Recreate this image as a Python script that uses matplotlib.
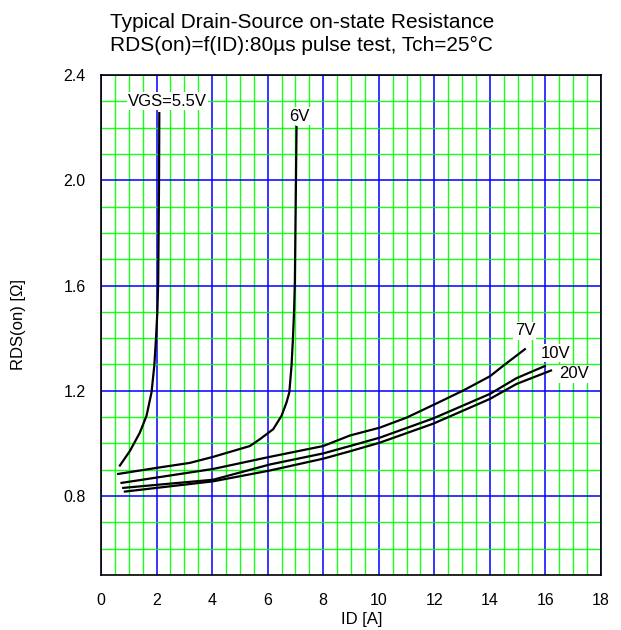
import numpy as np
import matplotlib
matplotlib.use("Agg")
import matplotlib.pyplot as plt
from matplotlib.ticker import MultipleLocator

plt.rcParams['font.family'] = ['Liberation Sans', 'DejaVu Sans']

# curves, ID [A] vs RDS(on) [Ohm]
id_55 = [0.68, 1.04, 1.40, 1.64, 1.82, 1.92, 1.98, 2.03, 2.06, 2.09, 2.10]
rds_55 = [0.916, 0.971, 1.041, 1.105, 1.194, 1.296, 1.398, 1.500, 1.615, 1.994, 2.255]

id_6 = [0.62, 2.0, 3.2, 4.04, 5.36, 5.72, 6.20, 6.50, 6.68, 6.78, 6.86, 6.91, 6.95, 6.98, 7.02, 7.04]
rds_6 = [0.884, 0.907, 0.926, 0.949, 0.990, 1.016, 1.054, 1.105, 1.156, 1.194, 1.296, 1.398,
         1.500, 1.615, 2.010, 2.202]

id_7 = [0.74, 4.04, 6.08, 8.0, 8.96, 10.04, 11.0, 12.02, 13.04, 14.0, 14.48, 15.26]
rds_7 = [0.850, 0.903, 0.949, 0.990, 1.030, 1.060, 1.098, 1.149, 1.201, 1.255, 1.295, 1.358]

id_10 = [0.80, 4.04, 6.08, 8.0, 8.96, 10.04, 11.96, 14.0, 14.96, 15.98]
rds_10 = [0.831, 0.862, 0.920, 0.962, 0.990, 1.022, 1.095, 1.188, 1.248, 1.294]

id_20 = [0.86, 4.04, 6.08, 8.0, 8.96, 10.04, 11.96, 14.0, 14.96, 16.2]
rds_20 = [0.817, 0.856, 0.897, 0.942, 0.970, 1.003, 1.075, 1.169, 1.226, 1.277]

labels = ['VGS=5.5V', '6V', '7V', '10V', '20V']
label_x = [2.39, 7.15, 15.26, 16.36, 17.04]
label_y = [2.30, 2.244, 1.428, 1.343, 1.264]

fig = plt.figure(figsize=(6.21, 6.30), dpi=100)
ax = fig.add_axes([0.1626, 0.0873, 0.8052, 0.7937])

ax.set_xlim(0, 18)
ax.set_ylim(0.5, 2.4)
ax.xaxis.set_major_locator(MultipleLocator(2))
ax.xaxis.set_minor_locator(MultipleLocator(0.5))
ax.yaxis.set_major_locator(MultipleLocator(0.4))
ax.yaxis.set_minor_locator(MultipleLocator(0.1))
ax.set_yticks([0.8, 1.2, 1.6, 2.0, 2.4])
ax.set_yticklabels(['0.8', '1.2', '1.6', '2.0', '2.4'])
ax.grid(which='minor', color='#00ff00', lw=1.0, alpha=0.9)
ax.grid(which='major', color='#0000ff', lw=1.1)
ax.set_axisbelow(True)
ax.tick_params(which='both', length=0, labelsize=11.5)
ax.tick_params(axis='x', pad=13)
ax.tick_params(axis='y', pad=11)
for s in ax.spines.values():
    s.set_linewidth(1.2)

for xs, ys in [(id_55, rds_55), (id_6, rds_6), (id_7, rds_7), (id_10, rds_10), (id_20, rds_20)]:
    ax.plot(xs, ys, color='black', lw=1.6)

for t, x, y in zip(labels, label_x, label_y):
    ax.text(x, y, t, ha='center', va='center', fontsize=12,
            bbox=dict(facecolor='white', edgecolor='none', pad=1.0))

ax.set_xlabel('ID [A]', fontsize=12, va='center')
ax.xaxis.set_label_coords(0.521, -0.088)
ax.set_ylabel('RDS(on) [Ω]', fontsize=12, va='center')
ax.yaxis.set_label_coords(-0.164, 0.5)

fig.text(0.177, 1 - 28.3 / 630, 'Typical Drain-Source on-state Resistance',
         ha='left', va='baseline', fontsize=15)
fig.text(0.177, 1 - 50.7 / 630, 'RDS(on)=f(ID):80µs pulse test, Tch=25°C',
         ha='left', va='baseline', fontsize=15)

fig.savefig('out.png', dpi=100)
